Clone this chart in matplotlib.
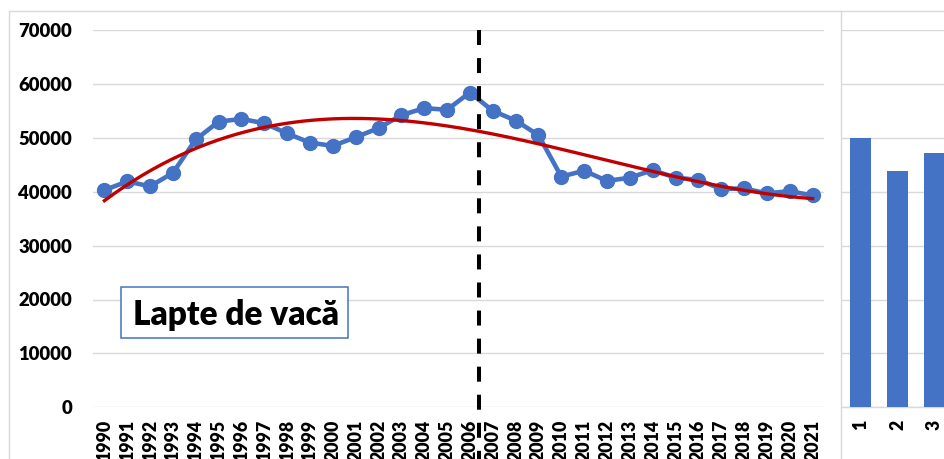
import numpy as np
import matplotlib
matplotlib.use("Agg")
import matplotlib.pyplot as plt
from matplotlib.patches import Rectangle
from matplotlib.lines import Line2D

# ---------------- data ----------------
years = [str(y) for y in range(1990, 2022)]
milk_values = [40300, 41900, 41000, 43500, 49700, 53000, 53500, 52700,
               50800, 49100, 48500, 50100, 51800, 54200, 55500, 55200,
               58400, 55000, 53200, 50500, 42800, 43900, 42000, 42600,
               44000, 42600, 42200, 40500, 40600, 39700, 40100, 39300]
trend_degree = 3
marker_year = "2006"
bar_labels = ["1", "2", "3"]
bar_values = [50000, 43900, 47100]
y_ticks = [0, 10000, 20000, 30000, 40000, 50000, 60000, 70000]
box_text = "Lapte de vacă"

# ---------------- style ----------------
plt.rcParams["font.family"] = ["Lato", "DejaVu Sans"]
plt.rcParams["lines.scale_dashes"] = False
BLUE = "#4472C4"
RED = "#C00000"
GRID = "#D9D9D9"
W, H = 944, 459
WEIGHT = "heavy"

fig = plt.figure(figsize=(W / 100, H / 100), dpi=100)
fig.patch.set_facecolor("white")

def fx(px):
    return px / W

def fy(py):
    return 1 - py / H

y_top_px, y_bot_px = 30.0, 407.3

# main axes
ax = fig.add_axes([fx(93), fy(y_bot_px), fx(824 - 93), (y_bot_px - y_top_px) / H])
x = np.arange(len(years))
ax.set_xlim(-0.5, len(years) - 0.5)
ax.set_ylim(0, 70000)
ax.set_yticks(y_ticks)
ax.set_yticklabels([str(v) for v in y_ticks], fontsize=13.3, fontweight=WEIGHT)
ax.set_xticks(x)
ax.set_xticklabels(years, rotation=90, fontsize=12.8, fontweight=WEIGHT)
ax.tick_params(axis="y", length=0, pad=15)
ax.tick_params(axis="x", length=0, pad=9)
ax.grid(axis="y", color=GRID, lw=1.0)
ax.set_axisbelow(True)
for s in ax.spines.values():
    s.set_visible(False)

ax.plot(x, milk_values, color=BLUE, lw=3.3, marker="o", ms=10, zorder=3)
coeffs = np.polyfit(x, milk_values, trend_degree)
xs = np.linspace(x[0], x[-1], 300)
ax.plot(xs, np.polyval(coeffs, xs), color=RED, lw=2.4, zorder=4)

split_pos = years.index(marker_year) + 0.4
ax.plot([split_pos, split_pos], [70000, -12000], color="black", lw=2.9,
        ls=(0, (10.8, 9.4)), clip_on=False, zorder=5)

# second (cropped) chart
ax2 = fig.add_axes([fx(842), fy(y_bot_px), fx(148), (y_bot_px - y_top_px) / H])
ax2.set_xlim(0.5, 4.5)
ax2.set_ylim(0, 70000)
ax2.set_yticks(y_ticks)
ax2.set_yticklabels([])
bx = np.arange(1, len(bar_labels) + 1)
ax2.bar(bx, bar_values, width=0.59, color=BLUE, zorder=3)
ax2.set_xticks(bx)
ax2.set_xticklabels(bar_labels, rotation=90, fontsize=12.8, fontweight=WEIGHT)
ax2.tick_params(axis="both", length=0)
ax2.tick_params(axis="x", pad=9)
ax2.grid(axis="y", color=GRID, lw=1.0)
ax2.set_axisbelow(True)
for k, s in ax2.spines.items():
    s.set_visible(k == "bottom")
ax2.spines["bottom"].set_color(GRID)
ax2.spines["bottom"].set_linewidth(1.0)

# chart borders
fig.add_artist(Line2D([fx(9), 1.0], [fy(10.7), fy(10.7)], color=GRID, lw=1.0))
fig.add_artist(Line2D([fx(9), fx(9)], [fy(10.7), 0], color=GRID, lw=1.0))
fig.add_artist(Line2D([fx(840.7), fx(840.7)], [fy(10.7), 0], color=GRID, lw=1.0))

# text box
fig.add_artist(Rectangle((fx(120.7), fy(338.3)), fx(347.7 - 120.7), (338.3 - 286.7) / H,
                         transform=fig.transFigure, facecolor="white",
                         edgecolor=BLUE, lw=1.1, zorder=6))
fig.text(fx(236), fy(325), box_text, ha="center", va="baseline",
         fontsize=24, fontweight=WEIGHT, zorder=7)

fig.savefig("out.png", dpi=100, facecolor="white")
